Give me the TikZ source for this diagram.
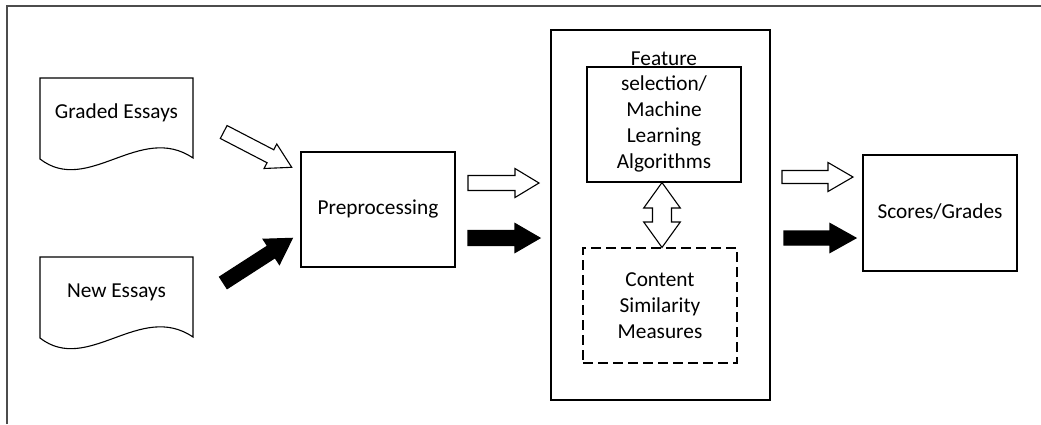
\documentclass[tikz,border=0pt]{standalone}
\usepackage{fontspec}
\setmainfont{Carlito}
\usetikzlibrary{calc}
\newcommand\blockarrow[6]{%
  \coordinate (ba-h) at ($(#3)!#6!(#2)$);
  \draw[#1] ($(#2)!#4!90:(#3)$) -- ($(ba-h)!#4!90:(#3)$) -- ($(ba-h)!#5!90:(#3)$) -- (#3)
    -- ($(ba-h)!#5!-90:(#3)$) -- ($(ba-h)!#4!-90:(#3)$) -- ($(#2)!#4!-90:(#3)$) -- cycle;}
\begin{document}
\begin{tikzpicture}[x=1pt,y=-1pt,
  every node/.style={font=\fontsize{21.3}{25.75}\selectfont, inner sep=0pt},
  lw/.style={line width=1.1pt},
  boxstyle/.style={draw, lw, rectangle},
  hollow/.style={draw, lw, fill=white, line join=miter},
  solid arrow/.style={draw, lw, fill=black, line join=miter},
  docstyle/.style={draw, lw, fill=white}]
\useasboundingbox (0,0) rectangle (1041,424);
% frame
\draw[line width=1.2pt, black!70] (7,424) -- (7,6) -- (1041,6);
% documents
\draw[docstyle] (40,159) -- (40,78) -- (193,78) -- (193,158) .. controls (140,122) and (88,196) .. (40,159) -- cycle;
\node (graded) at (116.5,113) {Graded Essays};
\draw[docstyle] (40,338) -- (40,257) -- (193,257) -- (193,337) .. controls (140,301) and (88,375) .. (40,338) -- cycle;
\node (new) at (116.5,292) {New Essays};
% preprocessing
\node[boxstyle, minimum width=154pt, minimum height=115pt] (pre) at (378,209.5) {};
\node (pret) at (378,209) {Preprocessing};
% big box
\node[boxstyle, minimum width=219pt, minimum height=370pt] (big) at (660.5,215) {};
\node[boxstyle, minimum width=154pt, minimum height=115pt] (fs) at (664,124.5) {};
\node[align=center] (fst) at (664,111.5) {Feature\\selection/\\Machine\\Learning\\Algorithms};
\node[boxstyle, dash pattern=on 10pt off 5pt, minimum width=154pt, minimum height=115pt] (cs) at (660,305.5) {};
\node[align=center] (cst) at (660,305.5) {Content\\Similarity\\Measures};
% scores
\node[boxstyle, minimum width=154pt, minimum height=116pt] (sc) at (940,213) {};
\node (sct) at (940,212) {Scores/Grades};
% arrow endpoints
\coordinate (a1s) at (223.7,132);   \coordinate (a1e) at (291.7,167.3);
\coordinate (a2s) at (223.3,282.8); \coordinate (a2e) at (292.3,238.3);
\coordinate (a3s) at (468,183);     \coordinate (a3e) at (539,183);
\coordinate (a4s) at (468,238);     \coordinate (a4e) at (540,238);
\coordinate (a5s) at (782,177);     \coordinate (a5e) at (853,177);
\coordinate (a6s) at (784,238);     \coordinate (a6e) at (856,238);
\blockarrow{hollow}{a1s}{a1e}{7.3pt}{13.8pt}{24pt}
\blockarrow{solid arrow}{a2s}{a2e}{7pt}{15pt}{25pt}
\blockarrow{hollow}{a3s}{a3e}{7.5pt}{14.5pt}{24pt}
\blockarrow{solid arrow}{a4s}{a4e}{7.5pt}{14.5pt}{25pt}
\blockarrow{hollow}{a5s}{a5e}{6.5pt}{14.5pt}{25pt}
\blockarrow{solid arrow}{a6s}{a6e}{7pt}{14.5pt}{26pt}
% double arrow between fs and cs
\draw[hollow] (fs.south -| 662,0) -- (680.3,208) -- (671.5,208) -- (671.5,222) -- (680.3,222)
  -- (cs.north -| 662,0) -- (643.7,222) -- (652.5,222) -- (652.5,208) -- (643.7,208) -- cycle;
\end{tikzpicture}
\end{document}
